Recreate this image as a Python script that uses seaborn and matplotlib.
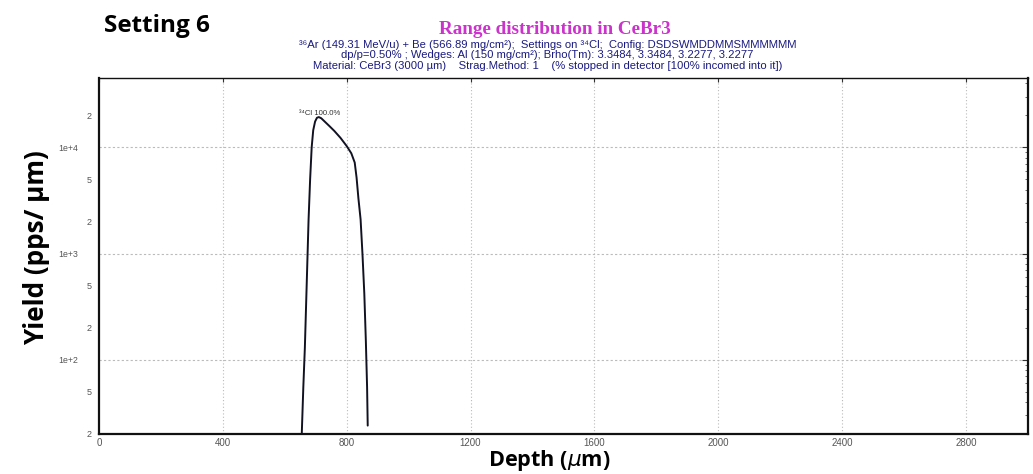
import numpy as np
import pandas as pd
import seaborn as sns
import matplotlib.pyplot as plt
from matplotlib.ticker import LogLocator, FixedLocator, FuncFormatter

# Range distribution of 34Cl in CeBr3 (depth in µm, yield in pps/µm)
depth = [655, 660, 665, 671, 677, 682, 687, 692, 698, 704, 710, 718, 730,
         745, 760, 780, 800, 815, 826, 832, 838, 845, 851, 857, 862, 866, 868]
yield_ = [20, 55, 130, 520, 2100, 5000, 10000, 14500, 17500, 19000, 19300,
          18800, 17400, 15800, 14300, 12300, 10300, 8800, 7200, 5200, 3300,
          2100, 1000, 420, 150, 55, 24]

x_ticks = [0, 400, 800, 1200, 1600, 2000, 2400, 2800]
decade_ticks = [100, 1000, 10000]
decade_labels = ["1e+2", "1e+3", "1e+4"]
mantissa_labels = [2, 5]

title = "Range distribution in CeBr3"
subtitle_lines = [
    "\u00b3\u2076Ar (149.31 MeV/u) + Be (566.89 mg/cm\u00b2);  Settings on \u00b3\u2074Cl;  Config: DSDSWMDDMMSMMMMMM",
    "dp/p=0.50% ; Wedges: Al (150 mg/cm\u00b2); Brho(Tm): 3.3484, 3.3484, 3.2277, 3.2277",
    "Material: CeBr3 (3000 \u00b5m)    Strag.Method: 1    (% stopped in detector [100% incomed into it])",
]
peak_label = "\u00b3\u2074Cl 100.0%"

sns.set_style("white")
plt.rcParams["font.family"] = ["Liberation Sans", "DejaVu Sans"]

fig = plt.figure(figsize=(10.33, 4.74), dpi=100)
ax = fig.add_axes([0.0958, 0.0844, 0.8992, 0.751])

df = pd.DataFrame({"depth": depth, "yield": yield_})
sns.lineplot(data=df, x="depth", y="yield", ax=ax, color="#111122",
             linewidth=1.4, sort=False)

ax.set_yscale("log")
ax.set_xlim(0, 3000)
ax.set_ylim(20, 45000)

ax.xaxis.set_major_locator(FixedLocator(x_ticks))
ax.set_xticklabels([str(v) for v in x_ticks])

# decades carry "1e+N", the 2 and 5 minors carry their mantissa
ax.yaxis.set_major_locator(FixedLocator(decade_ticks))
ax.yaxis.set_major_formatter(FuncFormatter(lambda v, p: decade_labels[decade_ticks.index(v)] if v in decade_ticks else ""))
ax.yaxis.set_minor_locator(LogLocator(base=10, subs=np.arange(2, 10)))


def minor_label(v, pos):
    m = int(round(v / 10 ** np.floor(np.log10(v) + 1e-9)))
    return str(m) if m in mantissa_labels else ""


ax.yaxis.set_minor_formatter(FuncFormatter(minor_label))

ax.tick_params(axis="x", which="major", labelsize=7, colors="#333333",
               labelcolor="#555555", length=3, width=0.8, direction="in",
               top=True, pad=3)
ax.tick_params(axis="y", which="major", labelsize=6.3, colors="#333333",
               labelcolor="#555555", length=4, width=0.8, direction="in",
               right=True, pad=15)
ax.tick_params(axis="y", which="minor", labelsize=6.5, length=2.5, width=0.6,
               direction="in", right=True, colors="#555555",
               labelcolor="#555555", pad=5)

# dotted grid at the round depths and the decades
for xv in x_ticks[1:]:
    ax.axvline(xv, color="#bbbbbb", linestyle=(0, (1, 2)), linewidth=0.8, zorder=0)
for yv in decade_ticks:
    ax.axhline(yv, color="#bbbbbb", linestyle=(0, (2, 2)), linewidth=0.8, zorder=0)

for side in ["left", "bottom", "right"]:
    ax.spines[side].set_linewidth(1.6)
    ax.spines[side].set_color("#111111")
ax.spines["top"].set_linewidth(1.0)
ax.spines["top"].set_color("#111111")

ax.set_xlabel("")
ax.set_ylabel("")

ax.text(713, 21000, peak_label, fontsize=5.6, color="#333333", ha="center", va="center")

fig.text(0.537, 0.938, title, family="Liberation Serif", fontweight="bold",
         fontsize=13.8, color="#cc33cc", ha="center", va="center")
for i, line in enumerate(subtitle_lines):
    fig.text(0.530, 0.906 - i * 0.0222, line, fontsize=8.1, color="#1a1a80",
             ha="center", va="center")
fig.text(0.101, 0.945, "Setting 6", family="Open Sans", fontweight="bold",
         fontsize=17.5, color="black", ha="left", va="center")
fig.text(0.035, 0.477, "Yield (pps/ \u00b5m)", family="Open Sans", fontweight="bold",
         fontsize=18.8, color="black", ha="center", va="center", rotation=90)
fig.text(0.532, 0.029, "Depth ($\\mu$m)", family="Open Sans", fontweight="bold",
         fontsize=15.6, color="black", ha="center", va="center")

fig.savefig("out.png", dpi=100)
